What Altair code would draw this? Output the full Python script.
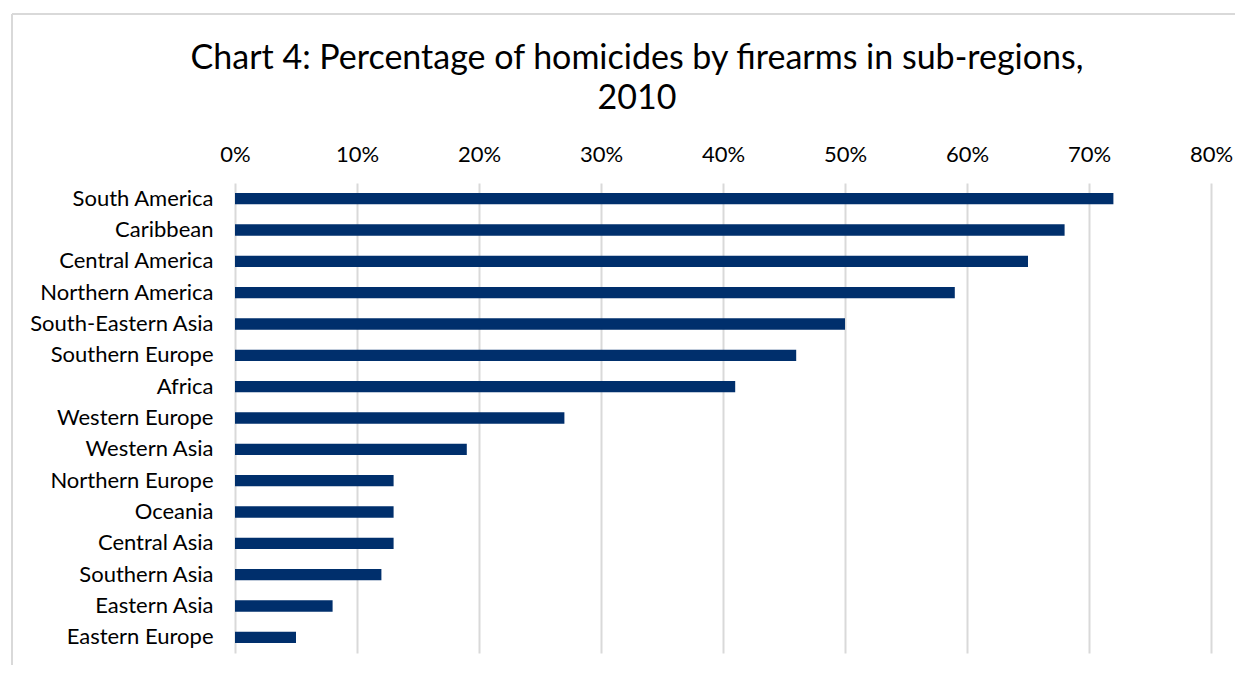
import altair as alt
import pandas as pd

regions = ["South America", "Caribbean", "Central America", "Northern America",
           "South-Eastern Asia", "Southern Europe", "Africa", "Western Europe",
           "Western Asia", "Northern Europe", "Oceania", "Central Asia",
           "Southern Asia", "Eastern Asia", "Eastern Europe"]
percent = [72, 68, 65, 59, 50, 46, 41, 27, 19, 13, 13, 13, 12, 8, 5]
ticks = [0, 10, 20, 30, 40, 50, 60, 70, 80]

df = pd.DataFrame({"region": regions, "pct": percent})

FONT = "Lato"

bars = alt.Chart(df).mark_bar(color="#002F6C").encode(
    x=alt.X("pct:Q",
            scale=alt.Scale(domain=[0, 80], nice=False),
            axis=alt.Axis(orient="top", values=ticks, labelExpr="datum.value + '%'",
                          title=None, domain=False, ticks=False, grid=True,
                          gridColor="#d9d9d9", gridWidth=2, labelFlush=False,
                          labelFont=FONT, labelFontSize=22, labelColor="#000000",
                          labelPadding=17)),
    y=alt.Y("region:N", sort=regions,
            scale=alt.Scale(paddingInner=0.64, paddingOuter=0.32),
            axis=alt.Axis(title=None, domain=False, ticks=False,
                          labelFont=FONT, labelFontSize=22, labelColor="#000000",
                          labelPadding=22, labelLimit=300)),
)

frame_top = alt.Chart(df).mark_rule(color="#d9d9d9", strokeWidth=2).encode(
    x=alt.value(-223), x2=alt.value(1100), y=alt.value(-169)
)
frame_left = alt.Chart(df).mark_rule(color="#d9d9d9", strokeWidth=2).encode(
    x=alt.value(-223), y=alt.value(-169), y2=alt.value(600)
)

chart = alt.layer(frame_top, frame_left, bars).properties(
    width=976, height=470,
    padding={"left": 227, "top": 175, "right": 24, "bottom": 12},
    autosize=alt.AutoSizeParams(type="none"),
    title=alt.TitleParams(
        text=["Chart 4: Percentage of homicides by firearms in sub-regions,", "2010"],
        font=FONT, fontSize=34, fontWeight="normal", color="#000000",
        anchor="middle", frame="group", dx=-86, offset=-103, lineHeight=40),
).configure_view(stroke=None)

chart.save("out.html", embed_options={"renderer": "svg", "actions": False})
